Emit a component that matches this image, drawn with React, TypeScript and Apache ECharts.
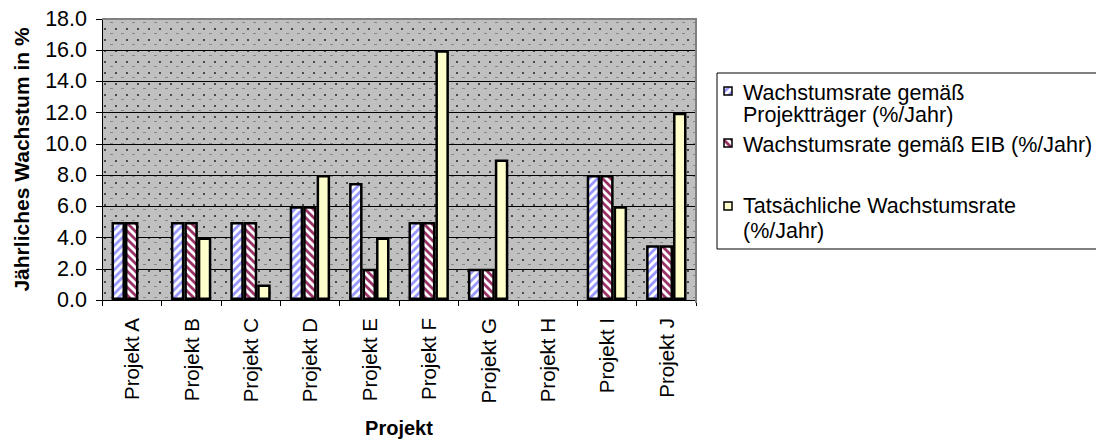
import React, { useEffect, useRef } from "react";
import * as echarts from "echarts";

const categories = [
  "Projekt A", "Projekt B", "Projekt C", "Projekt D", "Projekt E",
  "Projekt F", "Projekt G", "Projekt H", "Projekt I", "Projekt J",
];
const seriesNames = [
  "Wachstumsrate gemäß Projektträger (%/Jahr)",
  "Wachstumsrate gemäß EIB (%/Jahr)",
  "Tatsächliche Wachstumsrate (%/Jahr)",
];
const legendLines = [
  ["Wachstumsrate gemäß", "Projektträger (%/Jahr)"],
  ["Wachstumsrate gemäß EIB (%/Jahr)"],
  ["Tatsächliche Wachstumsrate", "(%/Jahr)"],
];
const promoterRate = [5, 5, 5, 6, 7.5, 5, 2, null, 8, 3.5];
const eibRate = [5, 5, 5, 6, 2, 5, 2, null, 8, 3.5];
const actualRate = [null, 4, 1, 8, 4, 16, 9, null, 6, 12];
const yMin = 0;
const yMax = 18;
const yStep = 2;
const xTitle = "Projekt";
const yTitle = "Jährliches Wachstum in %";

const FONT = "'Liberation Sans', Arial, sans-serif";

function tile(w: number, h: number, draw: (ctx: CanvasRenderingContext2D) => void) {
  const c = document.createElement("canvas");
  c.width = w;
  c.height = h;
  const ctx = c.getContext("2d") as CanvasRenderingContext2D;
  draw(ctx);
  return { image: c.toDataURL(), imageWidth: w, imageHeight: h, repeat: "repeat" };
}

function stripes(color: string, forward: boolean) {
  return tile(8, 8, (ctx) => {
    ctx.fillStyle = "#ffffff";
    ctx.fillRect(0, 0, 8, 8);
    ctx.strokeStyle = color;
    ctx.lineWidth = 2.8;
    ctx.beginPath();
    if (forward) {
      ctx.moveTo(-2, 2); ctx.lineTo(2, -2);
      ctx.moveTo(-2, 10); ctx.lineTo(10, -2);
      ctx.moveTo(6, 10); ctx.lineTo(10, 6);
    } else {
      ctx.moveTo(-2, -2); ctx.lineTo(10, 10);
      ctx.moveTo(-2, 6); ctx.lineTo(2, 10);
      ctx.moveTo(6, -2); ctx.lineTo(10, 2);
    }
    ctx.stroke();
  });
}

export default function App() {
  const ref = useRef<HTMLDivElement>(null);
  useEffect(() => {
    if (!ref.current) return;
    const chart = echarts.init(ref.current, null, { renderer: "svg" });

    const bgPattern = tile(11, 11, (ctx) => {
      ctx.fillStyle = "#c0c0c0";
      ctx.fillRect(0, 0, 11, 11);
      ctx.fillStyle = "#4a4a4a";
      ctx.fillRect(5, 6, 2, 2);
      ctx.fillStyle = "#888888";
      ctx.fillRect(0, 0, 3, 1);
    });
    const fills = [stripes("#9999ff", true), stripes("#993366", false), "#ffffcc"];
    const data = [promoterRate, eibRate, actualRate];

    const gridLeft = 102, gridTop = 19, gridRight = 696, gridBottom = 303;

    const legendGraphics: any[] = [
      {
        type: "rect",
        shape: { x: 717, y: 73, width: 600, height: 176 },
        style: { fill: "#ffffff", stroke: "#000000", lineWidth: 1 },
        z: 100,
      },
    ];
    const legendTops = [82, 134, 195];
    const iconTops = [87, 139, 202];
    const lineHeights = [22, 22, 25];
    legendLines.forEach((lines, i) => {
      legendGraphics.push({
        type: "rect",
        shape: { x: 724, y: iconTops[i], width: 8, height: 8 },
        style: { fill: fills[i], stroke: "#000000", lineWidth: 1.5 },
        z: 101,
      });
      lines.forEach((line, j) => {
        legendGraphics.push({
          type: "text",
          x: 743,
          y: legendTops[i] + j * lineHeights[i],
          style: {
            text: line,
            fill: "#000000",
            font: `21.5px ${FONT}`,
            verticalAlign: "top",
            lineHeight: 22,
          },
          z: 101,
        });
      });
    });

    chart.setOption({
      animation: false,
      backgroundColor: "#ffffff",
      grid: {
        left: gridLeft,
        top: gridTop,
        right: 1096 - gridRight,
        bottom: 443 - gridBottom,
        show: true,
        backgroundColor: bgPattern,
        borderWidth: 0,
      },
      xAxis: {
        type: "category",
        data: categories,
        name: xTitle,
        nameLocation: "middle",
        nameGap: 118,
        nameTextStyle: { fontFamily: FONT, fontSize: 20, fontWeight: "bold", color: "#000" },
        axisLine: { show: true, lineStyle: { color: "#000", width: 1 } },
        axisTick: { show: true, alignWithLabel: false, length: 6, lineStyle: { color: "#000" } },
        axisLabel: { rotate: 90, margin: 18, fontFamily: FONT, fontSize: 20.5, color: "#000", interval: 0 },
        splitLine: { show: false },
      },
      yAxis: {
        type: "value",
        min: yMin,
        max: yMax,
        interval: yStep,
        name: yTitle,
        nameLocation: "middle",
        nameGap: 70,
        nameTextStyle: { fontFamily: FONT, fontSize: 21, fontWeight: "bold", color: "#000" },
        axisLine: { show: true, lineStyle: { color: "#000", width: 1 } },
        axisTick: { show: true, length: 6, lineStyle: { color: "#000" } },
        axisLabel: {
          margin: 15,
          fontFamily: FONT,
          fontSize: 21.5,
          color: "#000",
          formatter: (v: number) => v.toFixed(1),
        },
        splitLine: { show: true, lineStyle: { color: "#000", width: 1 } },
      },
      series: seriesNames.map((name, i) => ({
        name,
        type: "bar",
        data: data[i],
        barGap: "0%",
        barCategoryGap: "32%",
        itemStyle: { color: fills[i], borderColor: "#000", borderWidth: 2.5 },
      })),
      graphic: [
        {
          type: "polyline",
          shape: { points: [[gridLeft, gridTop], [gridRight, gridTop], [gridRight, gridBottom]] },
          style: { fill: "none", stroke: "#808080", lineWidth: 2 },
          z: 50,
        },
        ...legendGraphics,
      ],
    });
    return () => chart.dispose();
  }, []);
  return (
    <div
      ref={ref}
      style={{ position: "fixed", left: 0, top: 0, width: 1096, height: 443, background: "#fff" }}
    />
  );
}
